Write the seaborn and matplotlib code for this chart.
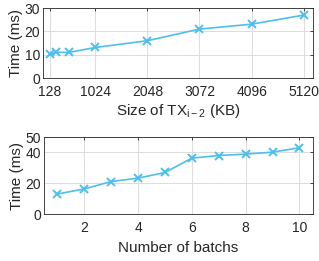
import numpy as np
import pandas as pd
import seaborn as sns
import matplotlib.pyplot as plt

# data
tx_size = [128, 256, 512, 1024, 2048, 3072, 4096, 5120]
tx_time = [10.1, 11.0, 11.0, 13.1, 16.0, 21.0, 23.1, 27.0]
tx_ticks = [128, 1024, 2048, 3072, 4096, 5120]

batches = [1, 2, 3, 4, 5, 6, 7, 8, 9, 10]
batch_time = [13.0, 16.3, 21.1, 23.3, 27.0, 36.3, 38.0, 38.9, 40.2, 43.0]

line_color = "#4DBEEE"

sns.set_style("white")
plt.rcParams['font.family'] = ['Liberation Sans', 'DejaVu Sans']
plt.rcParams['mathtext.fontset'] = 'custom'
plt.rcParams['mathtext.rm'] = 'Liberation Sans'
plt.rcParams['mathtext.it'] = 'Liberation Sans'
plt.rcParams['font.size'] = 11

fig = plt.figure(figsize=(3.19, 2.61), dpi=100)
ax1 = fig.add_axes([0.135, 0.701, 0.846, 0.268])
ax2 = fig.add_axes([0.138, 0.180, 0.843, 0.295])

df_tx = pd.DataFrame({"size": tx_size, "time": tx_time})
df_b = pd.DataFrame({"batch": batches, "time": batch_time})

mk = dict(marker="x", markersize=6, markeredgewidth=1.4,
          markeredgecolor=line_color, linewidth=1.2)
sns.lineplot(data=df_tx, x="size", y="time", ax=ax1, color=line_color, **mk)
sns.lineplot(data=df_b, x="batch", y="time", ax=ax2, color=line_color, **mk)

ax1.set_xlim(0, 5300)
ax1.set_ylim(0, 30)
ax1.set_xticks(tx_ticks)
ax1.set_yticks([0, 10, 20, 30])
ax1.set_xlabel("Size of TX$_{\\mathregular{i-2}}$ (KB)", labelpad=2)
ax1.set_ylabel("Time (ms)", labelpad=1)

ax2.set_xlim(0.5, 10.5)
ax2.set_ylim(0, 50)
ax2.set_xticks([2, 4, 6, 8, 10])
ax2.set_yticks([0, 20, 40, 50])
ax2.set_xlabel("Number of batchs", labelpad=4)
ax2.set_ylabel("Time (ms)", labelpad=1)

for ax in (ax1, ax2):
    ax.grid(True, color="#dcdcdc", linewidth=0.7)
    ax.set_axisbelow(True)
    for s in ax.spines.values():
        s.set_color("#262626")
        s.set_linewidth(0.6)
    ax.tick_params(direction="in", length=2.5, width=0.6, colors="#262626",
                   labelsize=10, top=True, right=True)
    ax.tick_params(axis="y", pad=2)
    ax.tick_params(axis="x", pad=5)

fig.savefig("out.png", dpi=100)
